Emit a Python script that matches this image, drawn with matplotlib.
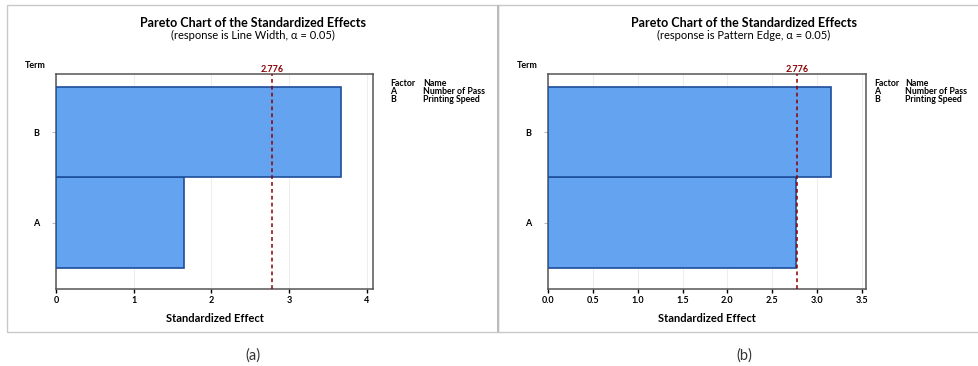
import numpy as np
import matplotlib.pyplot as plt
from matplotlib.patches import Rectangle

plt.rcParams.update({
    "font.family": ["Lato", "DejaVu Sans"],
    "font.size": 7})

# data
terms = ['A', 'B']
effects_a = [1.65, 3.67]
effects_b = [2.77, 3.15]
crit = 2.776
responses = ['Line Width', 'Pattern Edge']
factor_codes = ['A', 'B']
factor_names = ['Number of Pass', 'Printing Speed']
captions = ['(a)', '(b)']

W, H = 979, 366
bar_col = '#63A3F0'
edge_col = '#1E4E9A'
line_col = '#8B0000'


def px(x0, y0, x1, y1):
    # pixel box (top-left origin) -> figure rect
    return [x0 / W, 1 - y1 / H, (x1 - x0) / W, (y1 - y0) / H]


fig = plt.figure(figsize=(W / 100, H / 100), dpi=100)

# panel frames
fig.patches.append(Rectangle((7 / W, 1 - 332 / H), (498 - 7) / W, (332 - 5) / H,
                             transform=fig.transFigure, fill=False,
                             edgecolor='#C8C8C8', lw=1.0))
fig.patches.append(Rectangle((498 / W, 1 - 332 / H), (990 - 498) / W, (332 - 5) / H,
                             transform=fig.transFigure, fill=False,
                             edgecolor='#C8C8C8', lw=1.0))
fig.patches.append(Rectangle((497 / W, 1 - 332 / H), 2 / W, (332 - 5) / H,
                             transform=fig.transFigure, fill=True,
                             facecolor='#BBBBBB', edgecolor='none'))

panels = [
    dict(vals=effects_a, box=(56, 74, 373, 289), xmax=4.08,
         ticks=[0, 1, 2, 3, 4], fmt='%d', cx=253, legx=(390, 423)),
    dict(vals=effects_b, box=(548, 74, 866, 289), xmax=3.545,
         ticks=np.arange(0, 3.51, 0.5), fmt='%.1f', cx=744, legx=(874, 905)),
]

for i, p in enumerate(panels):
    x0, y0, x1, y1 = p['box']
    ax = fig.add_axes(px(x0, y0, x1, y1))
    ax.barh(terms, p['vals'], height=1.0, color=bar_col,
            edgecolor=edge_col, linewidth=1.2, zorder=3)
    ax.axvline(crit, color=line_col, ls=(0, (2.5, 2)), lw=1.1, zorder=4)
    ax.set_xlim(0, p['xmax'])
    ax.set_ylim(-0.733, 1.644)
    ax.set_xticks(p['ticks'])
    ax.set_xticklabels([p['fmt'] % t for t in p['ticks']], fontsize=6.5,
                       fontweight='bold')
    ax.tick_params(axis='y', labelsize=6.5, length=3, color='#BBBBBB', pad=9)
    ax.tick_params(axis='x', length=3, width=1, pad=2)
    for lab in ax.get_yticklabels():
        lab.set_fontweight('bold')
    ax.grid(axis='x', color='#EEEEEE', lw=0.8, zorder=0)
    for s in ax.spines.values():
        s.set_color('#555555')
        s.set_linewidth(1.1)
    ax.set_xlabel('Standardized Effect', fontsize=8, fontweight='bold',
                  labelpad=6)
    ax.text(crit, 1.0, '%.3f' % crit, transform=ax.get_xaxis_transform(),
            ha='center', va='bottom', color=line_col, fontsize=6.5,
            fontweight='bold')

    cx = p['cx']
    fig.text(cx / W, 1 - 23 / H, 'Pareto Chart of the Standardized Effects',
             ha='center', va='center', fontsize=9, fontweight='bold')
    fig.text(cx / W, 1 - 35 / H,
             '(response is %s, \u03b1 = 0.05)' % responses[i],
             ha='center', va='center', fontsize=8)
    fig.text((x0 - 21) / W, 1 - 66 / H, 'Term', ha='center', va='center',
             fontsize=6.5, fontweight='bold')

    lx1, lx2 = p['legx']
    fig.text(lx1 / W, 1 - 79 / H, 'Factor\n' + '\n'.join(factor_codes),
             fontsize=6.3, fontweight='bold', va='top', linespacing=0.88)
    fig.text(lx2 / W, 1 - 79 / H, 'Name\n' + '\n'.join(factor_names),
             fontsize=6.3, fontweight='bold', va='top', linespacing=0.88)

    fig.text(cx / W, 1 - 356 / H, captions[i], ha='center', va='center',
             fontsize=10.5, color='#333333')

plt.savefig('out.png', dpi=100)
